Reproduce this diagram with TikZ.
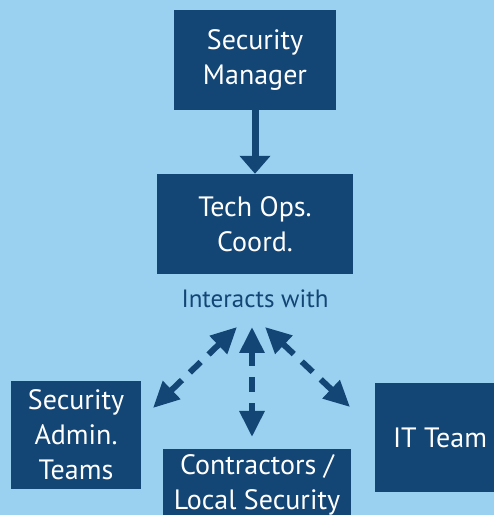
\documentclass[tikz,border=0pt]{standalone}
\usepackage{fontspec}
\setmainfont{PT Sans}
\usepackage{tikz}
\usetikzlibrary{arrows.meta}
\definecolor{skyblue}{RGB}{155,209,240}
\definecolor{navyblue}{RGB}{19,69,117}
\tikzstyle{box} = [rectangle, fill=navyblue, text=white, align=center, inner sep=0pt, font=\fontsize{28}{35}\selectfont]
\tikzstyle{arrow} = [navyblue, line width=7pt, -{Triangle[width=30pt,length=18pt]}]
\tikzstyle{link} = [navyblue, line width=6pt, dash pattern=on 15pt off 11pt, {Triangle[width=24pt,length=26pt]}-{Triangle[width=24pt,length=26pt]}]

\begin{document}
\begin{tikzpicture}[x=1pt,y=1pt]
  \fill [skyblue] (0,0) rectangle (494,515);
  \useasboundingbox (0,0) rectangle (494,515);

  \node (mgr) [box, minimum width=162pt, minimum height=100pt] at (255,455) {Security\\Manager};
  \node (tech) [box, minimum width=196pt, minimum height=100pt] at (255,291) {Tech Ops.\\Coord.};
  \node (interacts) [text=navyblue, font=\fontsize{25}{30}\selectfont] at (255,216) {Interacts with};
  \node (admin) [box, minimum width=130pt, minimum height=108pt] at (76,80) {Security\\Admin.\\Teams};
  \node (contr) [box, minimum width=188pt, minimum height=71pt] at (257,30.5) {Contractors /\\Local Security};
  \node (it) [box, minimum width=130pt, minimum height=109pt] at (440,77) {IT Team};

  % ends of the dashed links
  \coordinate (hubL) at (237,188);
  \coordinate (hubC) at (252,188);
  \coordinate (hubR) at (265,188);
  \coordinate (toAdmin) at (153,107);
  \coordinate (toContr) at (252,78);
  \coordinate (toIT) at (350,108);

  \draw [arrow] (mgr.south) -- (tech.north);
  \draw [link] (hubL) -- (toAdmin);
  \draw [link] (hubC) -- (toContr);
  \draw [link] (hubR) -- (toIT);
\end{tikzpicture}
\end{document}
